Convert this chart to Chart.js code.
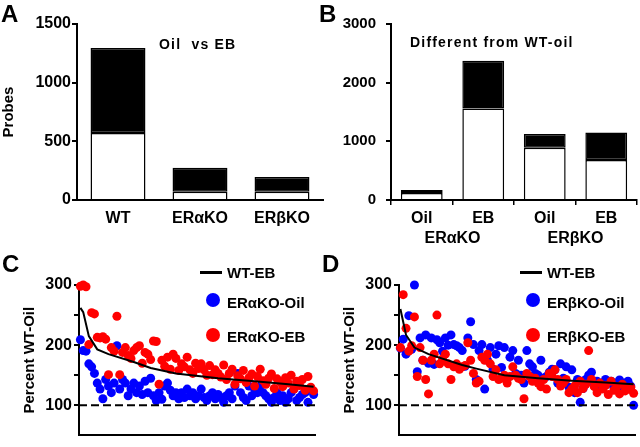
<!DOCTYPE html>
<html>
<head>
<meta charset="utf-8">
<script src="https://cdn.jsdelivr.net/npm/chart.js@4"></script>
<style>
  body { margin: 0; background: #fff; }
  #wrap { position: relative; width: 640px; height: 447px; overflow: hidden;
          font-family: "Liberation Sans", Arial, sans-serif; font-weight: bold; color: #000; }
  canvas { position: absolute; }
  .lbl { position: absolute; white-space: nowrap; line-height: 1; }
  .letter { font-size: 24px; }
  .note { font-size: 14px; letter-spacing: 1.2px; }
  .leg { font-size: 15px; }
  .dash { position: absolute; height: 3px; width: 22px; background: #000; }
  .dot { position: absolute; width: 14px; height: 14px; border-radius: 50%; }
</style>
</head>
<body>
<div id="wrap">
  <canvas id="chartA" width="325" height="250" style="left:0;top:0"></canvas>
  <canvas id="chartB" width="320" height="250" style="left:320px;top:0"></canvas>
  <canvas id="chartC" width="320" height="197" style="left:0;top:250px"></canvas>
  <canvas id="chartD" width="320" height="197" style="left:320px;top:250px"></canvas>

  <div class="lbl letter" style="left:1px;top:2px">A</div>
  <div class="lbl letter" style="left:319px;top:2px">B</div>
  <div class="lbl letter" style="left:2px;top:252px">C</div>
  <div class="lbl letter" style="left:322px;top:252px">D</div>

  <div class="lbl note" style="left:159px;top:37px">Oil&nbsp; vs EB</div>
  <div class="lbl note" style="left:410px;top:35px">Different from WT-oil</div>

  <div class="dash" style="left:200px;top:271px"></div>
  <div class="lbl leg" style="left:227px;top:265px">WT-EB</div>
  <div class="dot" style="left:206px;top:293px;background:#0000ff"></div>
  <div class="lbl leg" style="left:227px;top:295px">ERαKO-Oil</div>
  <div class="dot" style="left:206px;top:328px;background:#ff0000"></div>
  <div class="lbl leg" style="left:227px;top:329px">ERαKO-EB</div>

  <div class="dash" style="left:520px;top:271px"></div>
  <div class="lbl leg" style="left:547px;top:265px">WT-EB</div>
  <div class="dot" style="left:526px;top:293px;background:#0000ff"></div>
  <div class="lbl leg" style="left:547px;top:295px">ERβKO-Oil</div>
  <div class="dot" style="left:526px;top:328px;background:#ff0000"></div>
  <div class="lbl leg" style="left:547px;top:329px">ERβKO-EB</div>
</div>

<script>
// Panel A: probes changed, oil vs EB (white = lower part, black = upper part)
const catsA = ['WT', 'ERαKO', 'ERβKO'];
const lowerA = [570, 70, 70];
const upperA = [725, 205, 125];

// Panel B: different from WT-oil
const catsB = ['Oil', 'EB', 'Oil', 'EB'];
const groupsB = ['ERαKO', 'ERβKO'];
const lowerB = [120, 1560, 890, 680];
const upperB = [50, 815, 235, 470];

// Panel C: percent of WT-oil, per probe (index)
const cOil = [209, 191, 190, 169, 164, 153, 137, 127, 111, 143, 132, 121, 137, 199, 127, 143,
  137, 116, 127, 137, 121, 132, 118, 140, 121, 145, 116, 108, 121, 110, 132, 137,
  125, 116, 121, 111, 121, 113, 127, 116, 121, 111, 116, 127, 113, 108, 116, 121,
  111, 118, 113, 105, 116, 121, 111, 132, 153, 121, 113, 108, 132, 116, 127, 121,
  132, 121, 116, 111, 105, 113, 121, 108, 116, 105, 111, 121, 127, 108, 113, 118,
  121, 105, 127, 118];
const cEb = [298, 300, 297, 201, 254, 252, 213, 212, 214, 210, 151, 196, 190, 248, 151, 188,
  196, 183, 178, 191, 196, 199, 170, 188, 185, 176, 207, 206, 135, 175, 165, 180,
  160, 185, 178, 158, 169, 164, 180, 159, 153, 170, 161, 169, 159, 150, 166, 151,
  159, 153, 147, 167, 143, 153, 160, 135, 149, 144, 158, 138, 146, 152, 132, 148,
  160, 141, 135, 145, 152, 128, 144, 139, 131, 146, 137, 150, 127, 140, 133, 143,
  125, 148, 130, 124];
const cWtX = [0, 1, 3, 6, 10, 19, 25, 34, 49, 62, 74, 83];
const cWtY = [262, 255, 215, 193, 185, 172, 162, 153, 145, 140, 135, 131];

// Panel D
const dOil = [195, 210, 185, 249, 193, 300, 156, 212, 175, 217, 170, 212, 168, 209, 204, 190,
  212, 200, 217, 201, 199, 196, 191, 165, 212, 239, 201, 143, 191, 201, 127, 175,
  196, 160, 185, 199, 163, 196, 145, 180, 191, 153, 175, 150, 137, 191, 169, 164,
  153, 150, 175, 145, 148, 155, 160, 159, 137, 169, 145, 164, 130, 159, 121, 143,
  105, 128, 143, 150, 155, 137, 140, 133, 128, 143, 137, 140, 130, 137, 142, 125,
  137, 140, 132, 100];
const dEb = [196, 284, 228, 190, 199, 247, 148, 196, 175, 143, 119, 175, 185, 250, 169, 177,
  185, 169, 143, 164, 169, 160, 164, 166, 204, 175, 153, 137, 140, 180, 175, 185,
  169, 148, 159, 143, 145, 150, 137, 148, 164, 150, 145, 143, 111, 153, 148, 140,
  145, 137, 131, 143, 127, 153, 148, 159, 143, 132, 137, 143, 121, 127, 132, 121,
  140, 128, 135, 191, 143, 131, 121, 137, 127, 133, 118, 140, 125, 131, 119, 135,
  124, 127, 130, 120];
const dWtX = [0, 2, 5, 10, 22, 27, 37, 49, 61, 73, 83];
const dWtY = [260, 217, 196, 185, 167, 161, 150, 145, 141, 138, 135];

const baseline = 100;
const red = '#ff0000';
const blue = '#0000ff';
const FONT = "'Liberation Sans', Arial, sans-serif";
const bold = (size) => ({ family: FONT, size: size, weight: 'bold' });

function barDatasets(lower, upper, pct) {
    return [
        { data: lower, backgroundColor: '#fff', borderColor: '#000', borderWidth: 1.5,
          borderSkipped: 'start', barPercentage: pct, categoryPercentage: 1 },
        { data: upper, backgroundColor: '#000', borderColor: '#000', borderWidth: 1.5,
          borderSkipped: false, barPercentage: pct, categoryPercentage: 1 }
    ];
}

function valueAxis(max, step, width, pad, size, title) {
    return {
        stacked: true, min: 0, max: max,
        ticks: { stepSize: step, color: '#000', font: bold(size), padding: pad,
                 callback: (v) => String(v) },
        grid: { drawOnChartArea: false, tickLength: 5, color: '#000', lineWidth: 2 },
        border: { color: '#000', width: 2 },
        title: { display: !!title, text: title, color: '#000', font: bold(15), padding: 0 },
        afterFit: (s) => { s.width = width; }
    };
}

const baseOpts = {
    responsive: false,
    animation: false,
    events: [],
    plugins: { legend: { display: false }, tooltip: { enabled: false } }
};

// 1. Panel A
new Chart(document.getElementById('chartA'), {
    type: 'bar',
    data: { labels: catsA, datasets: barDatasets(lowerA, upperA, 0.67) },
    options: {
        ...baseOpts,
        layout: { padding: { top: 24, right: 2, bottom: 10, left: 0 } },
        scales: {
            x: {
                stacked: true,
                ticks: { color: '#000', font: bold(16), padding: 9 },
                grid: { display: false, drawTicks: false },
                border: { color: '#000', width: 2 },
                afterFit: (s) => { s.height = 40; }
            },
            y: valueAxis(1500, 500, 77, 1, 16, 'Probes')
        }
    }
});

// 2. Panel B, with the genotype under each pair of bars
const groupLabels = {
    id: 'groupLabels',
    afterDraw(chart) {
        const x = chart.scales.x;
        const ctx = chart.ctx;
        ctx.save();
        ctx.font = 'bold 16px ' + FONT;
        ctx.fillStyle = '#000';
        ctx.textAlign = 'center';
        ctx.textBaseline = 'middle';
        groupsB.forEach((g, i) => {
            const mid = (x.getPixelForValue(i * 2) + x.getPixelForValue(i * 2 + 1)) / 2;
            ctx.fillText(g, mid, 239);
        });
        ctx.restore();
    }
};

new Chart(document.getElementById('chartB'), {
    type: 'bar',
    data: { labels: catsB, datasets: barDatasets(lowerB, upperB, 0.68) },
    options: {
        ...baseOpts,
        layout: { padding: { top: 24, right: 3, bottom: 10, left: 0 } },
        scales: {
            x: {
                stacked: true,
                ticks: { color: '#000', font: bold(16), padding: 4 },
                grid: { drawOnChartArea: false, tickLength: 5, color: '#000', lineWidth: 1.5 },
                border: { color: '#000', width: 2 },
                afterFit: (s) => { s.height = 40; }
            },
            y: valueAxis(3000, 1000, 71, 10, 15, '')
        }
    },
    plugins: [groupLabels]
});

// 3. Panels C and D: scatter per probe, WT-EB curve and dashed 100% line
function pctChart(id, oil, eb, wtX, wtY) {
    const n = oil.length;
    new Chart(document.getElementById(id), {
        type: 'scatter',
        data: {
            datasets: [
                { data: wtX.map((x, i) => ({ x: x, y: wtY[i] })), showLine: true,
                  borderColor: '#000', borderWidth: 2, pointRadius: 0, clip: false },
                { data: [{ x: -0.5, y: baseline }, { x: n - 0.5, y: baseline }], showLine: true,
                  borderColor: '#000', borderWidth: 2, borderDash: [8, 4], pointRadius: 0 },
                { data: eb.map((y, i) => ({ x: i, y: y })), backgroundColor: red,
                  borderWidth: 0, pointRadius: 4.5, clip: false },
                { data: oil.map((y, i) => ({ x: i, y: y })), backgroundColor: blue,
                  borderWidth: 0, pointRadius: 4.5, clip: false }
            ]
        },
        options: {
            ...baseOpts,
            layout: { padding: { top: 35, right: 5, bottom: 0, left: 0 } },
            scales: {
                x: {
                    type: 'linear', min: -0.5, max: n - 0.5,
                    ticks: { display: false },
                    grid: { display: false },
                    border: { color: '#000', width: 2 },
                    afterFit: (s) => { s.height = 6; }
                },
                y: {
                    min: 50, max: 300,
                    afterBuildTicks: (s) => { s.ticks = s.ticks.filter(t => t.value >= 100); },
                    ticks: { stepSize: 50, color: '#000', font: bold(16), padding: 2,
                             callback: (v) => (v % 100 === 0 ? String(v) : '') },
                    grid: { drawOnChartArea: false, tickLength: 5, color: '#000', lineWidth: 2 },
                    border: { color: '#000', width: 2 },
                    title: { display: true, text: 'Percent WT-Oil', color: '#000', font: bold(15),
                             padding: { top: 21, bottom: 0 } },
                    afterFit: (s) => { s.width = 79; }
                }
            }
        }
    });
}

pctChart('chartC', cOil, cEb, cWtX, cWtY);
pctChart('chartD', dOil, dEb, dWtX, dWtY);
</script>
</body>
</html>
